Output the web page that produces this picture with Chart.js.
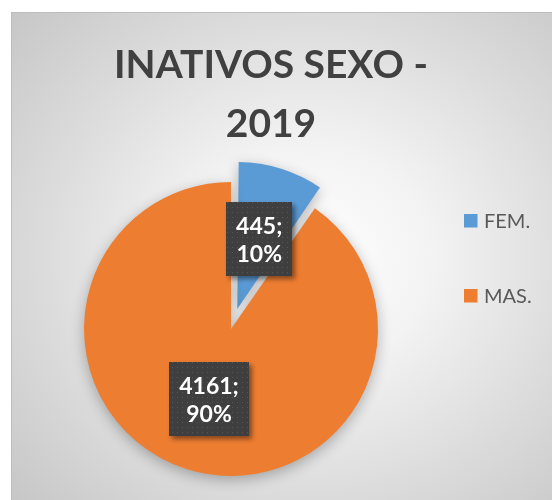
<!DOCTYPE html>
<html>
<head>
<meta charset="utf-8">
<script src="https://cdn.jsdelivr.net/npm/chart.js@4"></script>
<style>
  html, body { margin: 0; padding: 0; background: #ffffff; overflow: hidden; width: 552px; height: 500px; }
  #bg {
    position: absolute; left: 11px; top: 12px; width: 541px; height: 488px;
    border-left: 1px solid #bdbdbd; border-top: 1px solid #bdbdbd;
    background: radial-gradient(ellipse 75% 75% at 55% 50%, #ffffff 0%, #f3f3f3 30%, #dcdcdc 65%, #c6c6c6 100%);
  }
  #c { position: absolute; left: 0; top: 0; }
</style>
</head>
<body>
<div id="bg"></div>
<canvas id="c" width="552" height="560"></canvas>
<script>
const categories = ['FEM.', 'MAS.'];
const values = [445, 4161];
const titleLines = ['INATIVOS SEXO -', '2019'];
const sliceColors = ['#5B9BD5', '#ED7D31'];
const sliceOffsets = [84, 0];

const total = values.reduce((a, b) => a + b, 0);

// dotted pattern for data label boxes
const pat = document.createElement('canvas');
pat.width = 5; pat.height = 5;
const pctx = pat.getContext('2d');
pctx.fillStyle = '#3f3f3f'; pctx.fillRect(0, 0, 5, 5);
pctx.fillStyle = '#575757'; pctx.fillRect(2, 2, 1, 1);

let baseRadius = 0;

const decorPlugin = {
  id: 'decor',
  afterDatasetsUpdate(chart) {
    // keep exploded slices at the same radius as the rest of the pie
    const meta = chart.getDatasetMeta(0);
    baseRadius = 0;
    meta.data.forEach(arc => { baseRadius = Math.max(baseRadius, arc.outerRadius); });
    meta.data.forEach(arc => {
      const off = (arc.options.offset || 0) / 4;
      if (off) {
        const fix = 1 - Math.sin(Math.min(Math.PI, arc.circumference || 0));
        arc.outerRadius = baseRadius - off * fix;
      }
    });
  },
  beforeDatasetsDraw(chart) {
    const ctx = chart.ctx;
    ctx.save();
    ctx.shadowColor = 'rgba(0,0,0,0.28)';
    ctx.shadowBlur = 14;
    ctx.shadowOffsetX = 0;
    ctx.shadowOffsetY = 4;
  },
  afterDatasetsDraw(chart) {
    const ctx = chart.ctx;
    ctx.restore();
    const meta = chart.getDatasetMeta(0);
    meta.data.forEach((arc, i) => {
      const p = arc.getProps(['x', 'y', 'startAngle', 'endAngle'], true);
      const mid = (p.startAngle + p.endAngle) / 2;
      const shift = (arc.options.offset || 0) / 4;
      const d = shift + baseRadius * 0.5;
      const cx = p.x + Math.cos(mid) * d;
      const cy = p.y + Math.sin(mid) * d;
      const l1 = values[i] + ';';
      const l2 = Math.round(values[i] / total * 100) + '%';
      ctx.save();
      ctx.font = 'bold 23px Lato';
      const w = Math.max(ctx.measureText(l1).width, ctx.measureText(l2).width) + 20;
      const h = 74;
      ctx.shadowColor = 'rgba(0,0,0,0.45)';
      ctx.shadowBlur = 5;
      ctx.shadowOffsetX = 3;
      ctx.shadowOffsetY = 3;
      ctx.fillStyle = ctx.createPattern(pat, 'repeat');
      ctx.fillRect(Math.round(cx - w / 2), Math.round(cy - h / 2), Math.round(w), h);
      ctx.restore();
      ctx.save();
      ctx.font = 'bold 23px Lato';
      ctx.fillStyle = '#ffffff';
      ctx.textAlign = 'center';
      ctx.textBaseline = 'alphabetic';
      ctx.fillText(l1, cx, cy - 5);
      ctx.fillText(l2, cx, cy + 23);
      ctx.restore();
    });
  },
  afterDraw(chart) {
    const ctx = chart.ctx;
    ctx.save();
    // title
    ctx.font = 'bold 39px Lato';
    ctx.fillStyle = '#404040';
    ctx.textAlign = 'center';
    ctx.textBaseline = 'alphabetic';
    ctx.fillText(titleLines[0], 271, 78);
    ctx.fillText(titleLines[1], 271, 137);
    // legend
    const ys = [214, 289];
    ctx.font = '20px Lato';
    ctx.textAlign = 'left';
    categories.forEach((c, i) => {
      ctx.fillStyle = sliceColors[i];
      ctx.fillRect(464, ys[i], 13.5, 13.5);
      ctx.fillStyle = '#595959';
      ctx.fillText(c, 484, ys[i] + 14);
    });
    ctx.restore();
  }
};

new Chart(document.getElementById('c'), {
  type: 'pie',
  data: {
    labels: categories,
    datasets: [{
      data: values,
      backgroundColor: sliceColors,
      borderWidth: 0,
      offset: sliceOffsets
    }]
  },
  options: {
    responsive: false,
    animation: false,
    layout: { padding: { left: 42, right: 132, top: 140, bottom: 42 } },
    plugins: {
      legend: { display: false },
      title: { display: false },
      tooltip: { enabled: false }
    }
  },
  plugins: [decorPlugin]
});
</script>
</body>
</html>
